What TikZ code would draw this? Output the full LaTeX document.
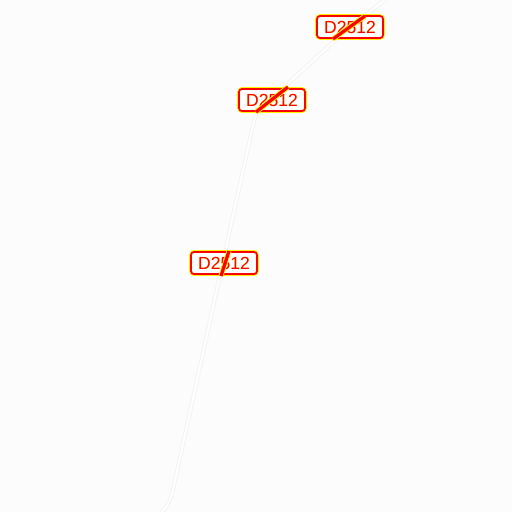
\documentclass[tikz,border=0pt]{standalone}
\usepackage{fontspec}
\setmainfont{Liberation Sans}
\usepackage[outline]{contour}
\contourlength{0.8pt}
\definecolor{roadcol}{RGB}{242,242,242}
\begin{document}
\begin{tikzpicture}[x=1pt,y=-1pt,
  road/.style={draw=roadcol,line width=0.9pt,double=white,double distance=2.2pt},
  shieldbox/.style={draw=red,line width=1.8pt,fill=white,rounded corners=3pt,minimum width=66pt,minimum height=22pt,inner sep=0pt,font=\fontsize{17.5}{18}\selectfont},
  shieldhalo/.style={draw=yellow,line width=3.6pt,rounded corners=3pt,minimum width=66pt,minimum height=22pt},
  redseg/.style={draw=red,line width=3.2pt},
  yellowseg/.style={draw=yellow,line width=5pt}]
\fill[white!99!black] (0,0) rectangle (512,512);
\useasboundingbox (0,0) rectangle (512,512);
% road
\coordinate (r0) at (160,514);
\coordinate (r1) at (172,494);
\coordinate (r2) at (253,125);
\coordinate (r3) at (268,102);
\coordinate (r4) at (330,45);
\coordinate (r5) at (387,-2);
\draw[road] (r0) .. controls (168,505) .. (r1) -- (r2) .. controls (256,113) .. (r3) -- (r4) .. controls (345,32) .. (r5);
% shield halos
\foreach \p/\n in {{(350,27)}/ha,{(272,100)}/hb,{(224,263)}/hc}
  \node[shieldhalo] (\n) at \p {};
% shields
\node[shieldbox] (sa) at (350,27) {\contour{yellow}{\textcolor{red}{D2512}}};
\node[shieldbox] (sb) at (272,100) {\contour{yellow}{\textcolor{red}{D2512}}};
\node[shieldbox] (sc) at (224,263) {\contour{yellow}{\textcolor{red}{D2512}}};
% red road segments
\coordinate (a1) at (333,39);
\coordinate (a2) at (365,16);
\coordinate (b1) at (256,112);
\coordinate (b2) at (288,87);
\coordinate (c1) at (221,276);
\coordinate (c2) at (229,251);
\draw[yellowseg] (a1) -- (a2);
\draw[yellowseg] (b1) -- (b2);
\draw[yellowseg] (c1) -- (c2);
\draw[redseg] (a1) -- (a2);
\draw[redseg] (b1) -- (b2);
\draw[redseg] (c1) -- (c2);
\end{tikzpicture}
\end{document}
